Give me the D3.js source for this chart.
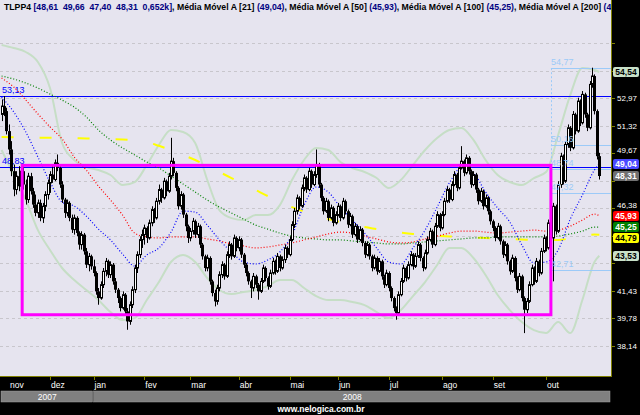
<!DOCTYPE html>
<html><head><meta charset="utf-8">
<script src="https://cdn.jsdelivr.net/npm/d3@7/dist/d3.min.js"></script>
<style>html,body{margin:0;padding:0;background:#000;overflow:hidden}</style>
</head><body><svg id="c" width="640" height="415"></svg>
<script>
// ---------- DATA ----------
const months = ["nov","dez","jan","fev","mar","abr","mai","jun","jul","ago","set","out"];
const monthDays = [20,18,21,19,20,21,20,21,22,21,22,23];
const years = [{label:"2007", months:2},{label:"2008", months:10}];
// [open, high, low, close]
const nov07 = [[52.0,52.9,51.6,52.5],[52.5,53.1,51.9,52.2],[52.2,52.4,50.8,51.0],[51.0,51.4,49.6,49.9],[49.9,50.4,48.3,48.6],[48.6,49.0,47.1,47.5],[47.5,48.6,47.2,48.3],[48.3,48.9,47.4,47.7],[47.7,48.8,47.5,48.6],[48.6,48.9,47.5,47.8],[47.8,48.1,46.6,46.9],[46.9,48.5,46.7,48.3],[48.3,48.5,47.2,47.4],[47.4,47.6,46.4,46.6],[46.6,47.2,45.9,46.1],[46.1,46.9,45.8,46.7],[46.7,46.9,45.6,45.8],[45.8,46.7,45.5,46.5],[46.5,47.4,46.2,47.2],[47.2,48.1,46.9,47.9]];
const dez07 = [[47.9,48.6,47.3,48.4],[48.4,49.0,47.9,48.1],[48.1,49.3,48.0,49.1],[49.1,49.6,48.6,48.8],[48.8,49.0,47.6,47.8],[47.8,48.0,46.7,46.9],[46.9,47.0,45.8,46.1],[46.1,46.9,45.9,46.7],[46.7,46.8,45.6,45.8],[45.8,46.0,44.9,45.1],[45.1,46.0,44.8,45.8],[45.8,45.9,44.7,44.9],[44.9,45.0,43.9,44.2],[44.2,45.0,43.9,44.8],[44.8,44.9,43.6,43.8],[43.8,44.0,42.8,43.0],[43.0,43.7,42.6,43.5],[43.5,43.6,42.7,42.9]];
const jan08 = [[42.9,43.3,42.3,42.5],[42.5,42.6,41.2,41.4],[41.4,41.6,40.6,41.0],[41.0,42.0,40.9,41.8],[41.8,42.8,41.6,42.6],[42.6,43.4,42.3,43.2],[43.2,43.3,42.2,42.4],[42.4,43.2,42.2,43.0],[43.0,43.1,41.8,42.0],[42.0,42.2,41.3,41.5],[41.5,41.6,40.7,41.0],[41.0,41.1,40.2,40.4],[40.4,41.4,40.3,41.2],[41.2,41.3,40.0,40.2],[40.2,40.4,39.1,39.6],[39.6,40.8,39.4,40.6],[40.6,41.7,40.4,41.5],[41.5,43.0,41.3,42.8],[42.8,43.8,42.5,43.6],[43.6,44.7,43.4,44.5],[44.5,45.1,44.0,44.8]];
const fev08 = [[44.8,45.4,44.2,45.2],[45.2,45.3,44.3,44.6],[44.6,45.7,44.5,45.5],[45.5,46.5,45.3,46.3],[46.3,46.4,45.5,45.8],[45.8,47.0,45.7,46.8],[46.8,47.8,46.6,47.5],[47.5,47.6,46.7,47.0],[47.0,48.2,46.9,48.0],[48.0,48.1,47.1,47.4],[47.4,48.5,47.3,48.3],[48.3,50.6,48.1,49.2],[49.2,49.4,48.3,48.5],[48.5,48.6,47.4,47.6],[47.6,47.7,46.3,46.5],[46.5,47.4,46.3,47.2],[47.2,47.3,45.8,46.0],[46.0,46.1,45.0,45.3],[45.3,45.4,44.3,44.6]];
const mar08 = [[44.6,45.2,44.4,45.0],[45.0,45.8,44.8,45.6],[45.6,45.7,44.6,44.8],[44.8,45.5,44.6,45.3],[45.3,45.4,44.0,44.2],[44.2,44.3,43.3,43.5],[43.5,43.6,42.6,42.8],[42.8,43.6,42.6,43.4],[43.4,43.5,41.8,42.0],[42.0,42.1,41.1,41.3],[41.3,41.5,40.5,40.8],[40.8,41.8,40.6,41.6],[41.6,42.6,41.4,42.4],[42.4,43.2,42.2,43.0],[43.0,43.1,42.1,42.3],[42.3,43.8,42.2,43.6],[43.6,44.4,43.4,44.2],[44.2,44.3,43.3,43.5],[43.5,44.8,43.4,44.6],[44.6,44.7,43.8,44.0]];
const abr08 = [[44.0,44.7,43.8,44.5],[44.5,44.6,43.4,43.6],[43.6,43.7,42.8,43.0],[43.0,43.1,42.3,42.5],[42.5,42.6,41.8,42.0],[42.0,42.1,41.0,41.6],[41.6,42.5,41.4,42.3],[42.3,42.4,41.6,41.8],[41.8,41.9,40.9,41.4],[41.4,42.2,41.3,42.0],[42.0,43.0,41.9,42.8],[42.8,42.9,42.0,42.2],[42.2,42.3,41.5,41.7],[41.7,42.7,41.6,42.5],[42.5,43.4,42.4,43.2],[43.2,43.3,42.4,42.6],[42.6,43.7,42.5,43.5],[43.5,43.6,42.6,42.8],[42.8,43.5,42.7,43.3],[43.3,44.2,43.1,44.0],[44.0,44.1,43.4,43.6]];
const mai08 = [[43.6,44.7,43.5,44.5],[44.5,45.6,44.4,45.4],[45.4,46.4,45.2,46.2],[46.2,47.2,46.0,47.0],[47.0,47.1,46.3,46.5],[46.5,47.8,46.4,47.6],[47.6,48.4,47.4,48.2],[48.2,48.3,47.3,47.5],[47.5,48.8,47.4,48.6],[48.6,48.7,47.6,47.8],[47.8,48.6,47.7,48.4],[48.4,49.9,48.2,49.0],[49.0,49.1,47.6,47.8],[47.8,47.9,46.8,47.0],[47.0,47.1,46.0,46.2],[46.2,47.0,46.1,46.8],[46.8,46.9,45.6,45.8],[45.8,46.6,45.7,46.4],[46.4,46.5,45.3,45.5],[45.5,46.2,45.4,46.0]];
const jun08 = [[46.0,46.7,45.9,46.5],[46.5,46.6,45.6,45.8],[45.8,47.0,45.7,46.8],[46.8,46.9,46.0,46.2],[46.2,46.3,45.2,45.4],[45.4,46.1,45.3,45.9],[45.9,46.0,44.6,44.8],[44.8,45.5,44.7,45.3],[45.3,45.4,44.3,44.5],[44.5,45.3,44.4,45.1],[45.1,45.2,44.1,44.3],[44.3,44.4,43.4,43.6],[43.6,44.4,43.5,44.2],[44.2,44.3,43.3,43.5],[43.5,43.6,42.6,42.8],[42.8,43.6,42.7,43.4],[43.4,43.5,42.4,42.6],[42.6,43.4,42.5,43.2],[43.2,43.3,42.1,42.3],[42.3,42.4,41.6,41.8],[41.8,42.7,41.7,42.5]];
const jul08 = [[42.5,42.6,41.4,41.6],[41.6,41.7,40.8,41.0],[41.0,41.1,40.2,40.4],[40.4,40.5,39.7,40.1],[40.1,41.4,40.0,41.2],[41.2,42.2,41.1,42.0],[42.0,43.0,41.9,42.8],[42.8,42.9,42.0,42.2],[42.2,43.2,42.1,43.0],[43.0,43.8,42.9,43.6],[43.6,43.7,42.7,42.9],[42.9,43.7,42.8,43.5],[43.5,44.4,43.4,44.2],[44.2,44.3,43.2,43.4],[43.4,43.5,42.6,42.8],[42.8,43.9,42.7,43.7],[43.7,44.7,43.6,44.5],[44.5,45.2,44.4,45.0],[45.0,45.1,44.0,44.2],[44.2,45.5,44.1,45.3],[45.3,46.2,45.2,46.0],[46.0,46.1,45.0,45.2]];
const ago08 = [[45.2,46.2,45.1,46.0],[46.0,47.0,45.9,46.8],[46.8,47.7,46.7,47.5],[47.5,47.6,46.7,46.9],[46.9,48.0,46.8,47.8],[47.8,48.6,47.7,48.4],[48.4,48.5,47.4,47.6],[47.6,49.0,47.5,48.8],[48.8,50.1,48.7,49.2],[49.2,49.3,48.3,48.5],[48.5,49.6,48.4,49.4],[49.4,49.5,48.4,48.6],[48.6,48.7,47.6,47.8],[47.8,48.6,47.7,48.4],[48.4,48.5,47.3,47.5],[47.5,47.6,46.6,46.8],[46.8,47.6,46.7,47.4],[47.4,47.5,46.3,46.5],[46.5,47.2,46.4,47.0],[47.0,47.1,46.0,46.2],[46.2,46.3,45.4,45.6]];
const set08 = [[45.6,45.7,45.0,45.2],[45.2,45.3,44.4,44.6],[44.6,45.5,44.5,45.3],[45.3,45.4,44.2,44.4],[44.4,44.5,43.4,43.6],[43.6,44.4,43.5,44.2],[44.2,44.3,43.0,43.2],[43.2,43.3,42.4,42.6],[42.6,43.6,42.5,43.4],[43.4,43.5,42.0,42.2],[42.2,42.3,41.3,41.5],[41.5,42.5,41.4,42.3],[42.3,42.4,40.8,41.0],[41.0,41.1,38.9,40.3],[40.3,41.0,40.1,40.8],[40.8,42.0,40.7,41.8],[41.8,43.0,41.7,42.8],[42.8,42.9,41.8,42.0],[42.0,43.4,41.9,43.2],[43.2,43.3,42.3,42.5],[42.5,44.0,42.4,43.8],[43.8,44.8,43.7,44.6]];
const out08 = [[44.6,44.7,43.8,44.0],[44.0,45.7,43.9,45.5],[45.5,45.6,44.4,44.6],[44.6,46.7,42.0,46.5],[46.5,46.6,44.8,45.0],[45.0,48.0,44.9,47.8],[47.8,49.7,47.6,49.5],[49.5,49.6,47.8,48.0],[48.0,50.4,47.9,50.2],[50.2,51.4,50.0,51.2],[51.2,51.3,49.8,50.0],[50.0,52.2,49.9,52.0],[52.0,52.1,50.8,51.0],[51.0,53.0,50.9,52.8],[52.8,52.9,51.3,51.5],[51.5,53.4,51.4,53.2],[53.2,53.3,51.8,52.0],[52.0,52.1,51.0,51.2],[51.2,54.0,51.1,53.8],[53.8,54.8,53.6,54.3],[54.3,54.4,52.0,52.2],[52.2,52.3,49.3,49.5],[49.5,49.7,48.1,48.31]];

// indicator series, sampled every 5 sessions (last value = last session)
const ma21  = [53.04,52.15,50.95,49.45,47.95,46.75,46.51,45.91,45.13,44.48,43.63,42.92,43.58,44.00,44.95,46.21,46.15,45.37,44.48,43.76,43.16,43.04,43.28,43.76,44.77,46.57,47.65,47.35,46.45,45.67,44.89,44.00,43.16,43.04,44.00,45.07,46.45,47.89,48.79,48.49,47.35,46.39,45.56,44.18,43.10,43.16,43.88,45.73,47.17,48.67,49.04];
const ma50  = [54.18,53.64,52.86,52.03,51.25,50.53,49.45,48.67,47.71,46.87,45.97,44.89,44.66,44.60,44.66,44.66,44.66,44.54,44.42,44.24,44.12,44.00,44.06,44.18,44.30,44.48,44.66,44.84,44.95,44.89,44.71,44.54,44.36,44.30,44.36,44.54,44.71,44.89,45.01,45.01,44.95,44.89,44.95,45.01,45.07,45.01,45.07,45.31,45.67,46.03,45.93];
const ma100 = [54.30,54.12,53.88,53.58,53.22,52.86,52.44,51.85,51.07,50.47,49.99,49.57,49.15,48.79,48.31,47.83,47.35,46.87,46.45,46.09,45.73,45.37,45.13,44.89,44.71,44.60,44.54,44.48,44.48,44.42,44.36,44.30,44.24,44.24,44.30,44.36,44.42,44.48,44.54,44.60,44.60,44.66,44.66,44.66,44.66,44.66,44.71,44.84,45.01,45.25,45.25];
const ma200 = [50.65,50.64,50.62,50.61,50.60,50.59,50.58,50.56,50.55,50.52,50.50,50.45,50.35,50.12,49.87,49.57,49.27,48.91,48.55,48.19,47.83,47.47,47.11,46.78,46.45,46.18,45.91,45.73,45.56,45.40,45.25,45.13,45.01,44.92,44.84,44.78,44.72,44.69,44.66,44.63,44.60,44.57,44.54,44.51,44.48,44.48,44.48,44.58,44.72,44.80,44.79];
const bbUpper = [56.16,55.98,55.74,55.14,53.58,50.29,49.27,48.85,48.67,48.37,47.77,47.95,48.97,50.17,51.07,50.95,50.29,48.07,46.27,45.79,45.67,45.97,45.97,46.57,48.07,49.27,49.99,49.87,49.15,48.79,48.55,48.19,47.59,48.07,48.97,49.87,50.59,51.07,51.19,50.47,49.27,48.37,47.95,47.77,48.19,48.55,50.77,53.16,54.78,54.66,54.54];
const bbLower = [49.87,48.37,46.87,45.07,43.88,42.80,42.08,41.48,40.88,40.16,39.68,39.80,40.88,41.96,43.16,43.58,43.16,42.20,41.48,41.24,41.36,41.48,41.72,42.08,42.08,41.60,41.12,40.88,40.88,40.76,40.58,40.16,39.80,40.28,41.12,41.96,42.98,44.00,44.00,43.40,42.38,41.18,40.28,39.56,39.08,38.90,39.56,38.90,40.88,43.16,43.53];

// axis grid levels (equal steps between the readable labels 51,32 and 41,43)
const gridValues = [56.26,54.61,52.97,51.32,49.67,48.02,46.38,44.73,43.08,41.43,39.78,38.14];
// horizontal study lines
const hLines = [{v:53.13,label:"53,13"},{v:48.83,label:"48,83"}];
const rectStudy = {i0:8.5, i1:227, top:48.95, bottom:40.0};
const fibLevels = [{v:54.77,label:"54,77"},{v:50.16,label:"50,16"},{v:48.74,label:"48,74"},{v:47.32,label:"47,32"},{v:42.71,label:"42,71"}];
const fibStart = 227;
const lastValues = [
  {v:54.54,label:"54,54",fill:"#c8e0c8",color:"#000"},
  {v:49.04,label:"49,04",fill:"#4a4aff",color:"#fff"},
  {v:48.31,label:"48,31",fill:"#707070",color:"#fff"},
  {v:45.93,label:"45,93",fill:"#ff0000",color:"#fff"},
  {v:45.25,label:"45,25",fill:"#008000",color:"#fff"},
  {v:44.79,label:"44,79",fill:"#ffff00",color:"#000"},
  {v:43.53,label:"43,53",fill:"#c8e0c8",color:"#000"}
];
const titleParts = [
  ["TLPP4 ","#000"],["[48,61  49,66  47,40  48,31  0,652k]","#000080"],
  [", Média Móvel A [21] ","#000"],["(49,04)","#000080"],
  [", Média Móvel A [50] ","#000"],["(45,93)","#000080"],
  [", Média Móvel A [100] ","#000"],["(45,25)","#000080"],
  [", Média Móvel A [200] ","#000"],["(44,79)","#000080"]
];

// ---------- DRAW ----------
const svg = d3.select("#c");
const W = 640, H = 415, plotR = 611, plotB = 376;
const FONT = "Liberation Sans, Arial, sans-serif";
const candles = [].concat(nov07,dez07,jan08,fev08,mar08,abr08,mai08,jun08,jul08,ago08,set08,out08)
  .map((d,i)=>({i,o:d[0],h:d[1],l:d[2],c:d[3]}));
const N = candles.length;
const x = d3.scaleLinear().domain([0, N-1]).range([1.6, 599.3]);
const y = d3.scaleLinear().domain([36.33, 58.855]).range([plotB, 0]);

svg.append("rect").attr("width",W).attr("height",H).attr("fill","#000");
svg.append("rect").attr("x",0).attr("y",0).attr("width",plotR).attr("height",plotB).attr("fill","#e6e4ef");

svg.append("clipPath").attr("id","pc").append("rect").attr("x",0).attr("y",0).attr("width",plotR).attr("height",plotB);
const g = svg.append("g").attr("clip-path","url(#pc)");

// grid
g.selectAll("line.grid").data(gridValues).join("line")
  .attr("x1",0).attr("x2",plotR).attr("y1",d=>Math.round(y(d))+0.5).attr("y2",d=>Math.round(y(d))+0.5)
  .attr("stroke","#c8c6cc").attr("stroke-dasharray","3,3");

// bollinger
const idx = d3.range(0, N-2, 5).concat([N-1]);
const seriesLine = arr => d3.line().x((d,k)=>x(idx[k])).y(d=>y(d)).curve(d3.curveMonotoneX)(arr);
[bbUpper,bbLower].forEach(a=>g.append("path").attr("d",seriesLine(a)).attr("fill","none").attr("stroke","#c6dec6").attr("stroke-width",2));

// fib study lines
g.append("line").attr("x1",Math.round(x(fibStart))+0.5).attr("x2",Math.round(x(fibStart))+0.5)
  .attr("y1",y(fibLevels[0].v)).attr("y2",y(fibLevels[fibLevels.length-1].v))
  .attr("stroke","#9ccaf8").attr("stroke-dasharray","2,2");
g.selectAll("line.fib").data(fibLevels).join("line")
  .attr("x1",x(fibStart)).attr("x2",plotR).attr("y1",d=>Math.round(y(d.v))+0.5).attr("y2",d=>Math.round(y(d.v))+0.5)
  .attr("stroke","#9ccaf8");

// horizontal lines
g.selectAll("line.h").data(hLines).join("line")
  .attr("x1",0).attr("x2",plotR).attr("y1",d=>Math.round(y(d.v))+0.5).attr("y2",d=>Math.round(y(d.v))+0.5)
  .attr("stroke","#0000ff");
g.selectAll("text.h").data(hLines).join("text")
  .attr("x",2).attr("y",d=>y(d.v)-3).text(d=>d.label)
  .attr("fill","#0000ff").attr("font-family",FONT).attr("font-size",9);

// moving averages
const maStyles = [[ma200,"#ffff00","12,26",2],[ma100,"#008000","1,2",1.2],[ma50,"#ff0000","1,2",1.2],[ma21,"#0000ff","1,2",1.2]];
maStyles.forEach(([a,col,dash,w])=>g.append("path").attr("d",seriesLine(a)).attr("fill","none")
  .attr("stroke",col).attr("stroke-dasharray",dash).attr("stroke-width",w));

// candles
g.selectAll("line.wick").data(candles).join("line")
  .attr("x1",d=>Math.round(x(d.i))+0.5).attr("x2",d=>Math.round(x(d.i))+0.5)
  .attr("y1",d=>y(d.h)).attr("y2",d=>y(d.l)).attr("stroke","#000");
g.selectAll("rect.body").data(candles).join("rect")
  .attr("x",d=>d.c>=d.o ? Math.round(x(d.i))-0.5 : Math.round(x(d.i))-1)
  .attr("width",d=>d.c>=d.o ? 2 : 3)
  .attr("y",d=>y(Math.max(d.o,d.c)))
  .attr("height",d=>Math.max(1,Math.abs(y(d.o)-y(d.c))))
  .attr("fill",d=>d.c>=d.o ? "#fff" : "#000")
  .attr("stroke",d=>d.c>=d.o ? "#000" : "none");

// fib labels above candles
g.selectAll("text.fib").data(fibLevels).join("text")
  .attr("x",x(fibStart)).attr("y",d=>y(d.v)-3).text(d=>d.label)
  .attr("fill","#9ccaf8").attr("font-family",FONT).attr("font-size",9);

// rectangle study
g.append("rect").attr("x",x(rectStudy.i0)).attr("y",y(rectStudy.top))
  .attr("width",x(rectStudy.i1)-x(rectStudy.i0)).attr("height",y(rectStudy.bottom)-y(rectStudy.top))
  .attr("fill","none").attr("stroke","#ff00ff").attr("stroke-width",3);

// title
const tt = svg.append("text").attr("x",4).attr("y",10).attr("font-family",FONT)
  .attr("font-size",8.7).attr("font-weight","bold").attr("xml:space","preserve");
titleParts.forEach(([s,c])=>tt.append("tspan").attr("fill",c).text(s));

// right column black overlay
svg.append("rect").attr("x",plotR+1).attr("y",0).attr("width",W-plotR-1).attr("height",H).attr("fill","#000");
// borders
svg.append("line").attr("x1",plotR+0.5).attr("x2",plotR+0.5).attr("y1",0).attr("y2",plotB+1).attr("stroke","#808000");
svg.append("line").attr("x1",0).attr("x2",plotR+1).attr("y1",plotB+0.5).attr("y2",plotB+0.5).attr("stroke","#808000");

// last-value boxes with simple collision layout
const boxes = lastValues.map(d=>({...d, py:y(d.v)})).sort((a,b)=>a.py-b.py);
for (let k=1;k<boxes.length;k++) if (boxes[k].py < boxes[k-1].py+10.5) boxes[k].py = boxes[k-1].py+10.5;
// right axis ticks + labels (labels hidden by a box are not drawn; labels just above a box are nudged up)
svg.selectAll("line.rt").data(gridValues).join("line")
  .attr("x1",plotR).attr("x2",plotR+4).attr("y1",d=>Math.round(y(d))+0.5).attr("y2",d=>Math.round(y(d))+0.5).attr("stroke","#808000");
const visibleGrid = gridValues.filter(v=>y(v)>60 && boxes.every(b=>{const dy=y(v)-b.py; return dy>=0 ? dy>9 : dy<-7.4;}));
const labelY = v => { const near = boxes.some(b=>{const dy=b.py-y(v); return dy>0 && dy<12;}); return y(v) + (near ? 0 : 3); };
svg.selectAll("text.rt").data(visibleGrid).join("text")
  .attr("x",617).attr("y",labelY).text(d=>d.toFixed(2).replace(".",","))
  .attr("fill","#fff").attr("font-family",FONT).attr("font-size",8);
const lv = svg.selectAll("g.lv").data(boxes).join("g").attr("transform",d=>`translate(613,${Math.round(d.py)-5})`);
lv.append("rect").attr("width",26).attr("height",10).attr("rx",2).attr("fill",d=>d.fill);
lv.append("text").attr("x",13).attr("y",8).attr("text-anchor","middle").text(d=>d.label)
  .attr("fill",d=>d.color).attr("font-family",FONT).attr("font-size",8.5).attr("font-weight","bold");

// x axis months
const starts = d3.cumsum([0].concat(monthDays.slice(0,-1)));
const monthData = months.map((m,k)=>({m, i:starts[k]}));
svg.selectAll("line.mt").data(monthData.slice(1)).join("line")
  .attr("x1",d=>Math.round(x(d.i))+0.5).attr("x2",d=>Math.round(x(d.i))+0.5).attr("y1",plotB).attr("y2",plotB+4).attr("stroke","#808000");
svg.selectAll("text.mt").data(monthData).join("text")
  .attr("x",(d,k)=>k===0?10:x(d.i)+1).attr("y",388).text(d=>d.m)
  .attr("fill","#fff").attr("font-family",FONT).attr("font-size",8.5);

// year bar
let mcount = 0;
years.forEach(yr=>{
  const a = mcount===0 ? 1 : x(starts[mcount]);
  mcount += yr.months;
  const b = mcount>=months.length ? plotR : x(starts[mcount]);
  svg.append("rect").attr("x",a).attr("y",391).attr("width",b-a-1).attr("height",11).attr("fill","#808080").attr("stroke","#a0a0a0").attr("stroke-width",0.5);
  svg.append("text").attr("x",(a+b)/2).attr("y",400).attr("text-anchor","middle").text(yr.label)
    .attr("fill","#fff").attr("font-family",FONT).attr("font-size",8.5);
});
svg.append("text").attr("x",321).attr("y",412).attr("text-anchor","middle").text("www.nelogica.com.br")
  .attr("fill","#fff").attr("font-family",FONT).attr("font-size",8.5).attr("font-weight","bold");
</script></body></html>
